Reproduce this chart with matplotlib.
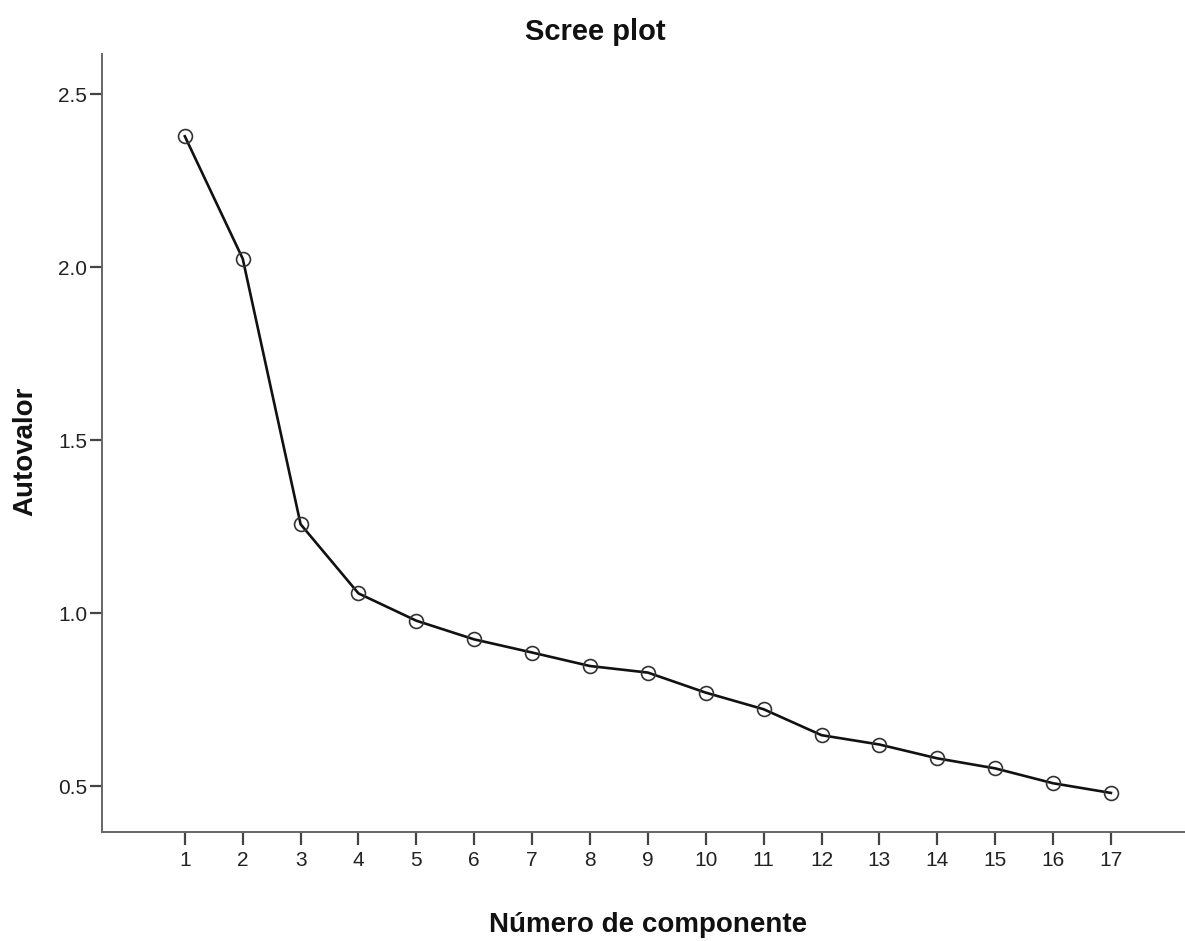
import matplotlib
matplotlib.use("Agg")
import matplotlib.pyplot as plt

components = list(range(1, 18))
eigenvalues = [2.379, 2.025, 1.257, 1.057, 0.978, 0.924, 0.886, 0.847, 0.828,
               0.770, 0.722, 0.647, 0.620, 0.580, 0.551, 0.508, 0.480]
y_ticks = [0.5, 1.0, 1.5, 2.0, 2.5]
y_ticklabels = ["0.5", "1.0", "1.5", "2.0", "2.5"]

title = "Scree plot"
xlabel = "Número de componente"
ylabel = "Autovalor"

plt.rcParams['font.family'] = ['Liberation Sans', 'DejaVu Sans']

W, H = 1185, 941
fig = plt.figure(figsize=(W / 100, H / 100), dpi=100)
ax = fig.add_axes([102.3 / W, (H - 832) / H, (W - 102.3) / W, (832 - 54.3) / H])

ax.plot(components, eigenvalues, color='#111111', linewidth=1.9, zorder=3,
        marker='o', markersize=10, markerfacecolor='none',
        markeredgecolor='#333333', markeredgewidth=1.2)

ax.set_xlim(-0.426, 18.28)
ax.set_ylim(0.367, 2.616)
ax.set_xticks(components)
ax.set_xticklabels([str(c) for c in components])
ax.set_yticks(y_ticks)
ax.set_yticklabels(y_ticklabels)

for s in ['top', 'right']:
    ax.spines[s].set_visible(False)
for s in ['left', 'bottom']:
    ax.spines[s].set_color('#666666')
    ax.spines[s].set_linewidth(1.4)

ax.tick_params(axis='both', direction='out', length=9, width=1.6, color='#444444',
               labelsize=15, labelcolor='#222222')
ax.tick_params(axis='y', pad=2)
ax.tick_params(axis='x', pad=5)

fig.text(595 / W, 1 - 40 / H, title, ha='center', va='baseline',
         fontsize=21, fontweight='bold', color='#111111')
fig.text(648 / W, 1 - 932 / H, xlabel, ha='center', va='baseline',
         fontsize=20, fontweight='bold', color='#111111')
fig.text(25 / W, 1 - 451 / H, ylabel, ha='center', va='center', rotation=90,
         fontsize=20, fontweight='bold', color='#111111')

fig.savefig('out.png', dpi=100, facecolor='white')
